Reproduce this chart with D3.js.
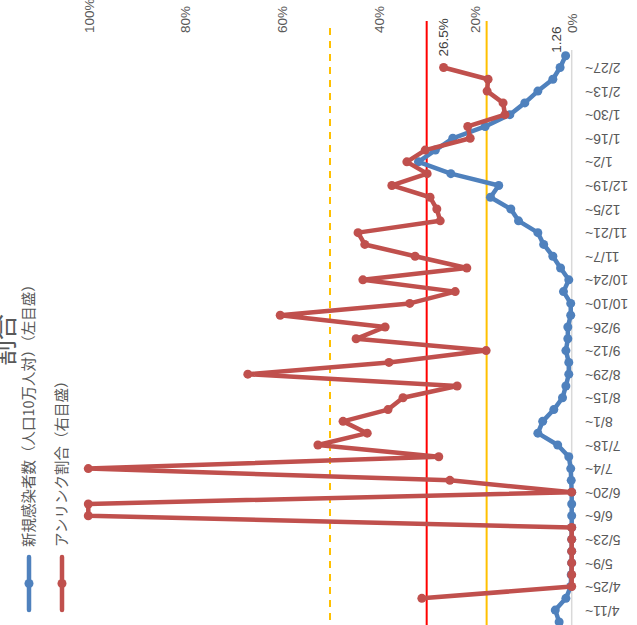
<!DOCTYPE html>
<html><head><meta charset="utf-8">
<script src="https://cdn.jsdelivr.net/npm/d3@7"></script>
<style>body{margin:0;background:#fff;overflow:hidden}</style>
</head><body><svg id="c" width="637" height="625"></svg>
<script>
// Weekly categories (week starting)
const weeks = ["3/28","4/4","4/11","4/18","4/25","5/2","5/9","5/16","5/23","5/30",
  "6/6","6/13","6/20","6/27","7/4","7/11","7/18","7/25","8/1","8/8",
  "8/15","8/22","8/29","9/5","9/12","9/19","9/26","10/3","10/10","10/17",
  "10/24","10/31","11/7","11/14","11/21","11/28","12/5","12/12","12/19","12/26",
  "1/2","1/9","1/16","1/23","1/30","2/6","2/13","2/20","2/27","3/6"];
// New cases per 100k population (left scale)
const newCases = [1.5,2.6,3.4,1.2,0.2,0.1,0,0,0,0,
  0,0,0,0.1,0.2,0.6,2.9,7.0,6.0,3.7,
  1.9,1.2,0.6,0.6,1.2,0.8,0.8,0.2,0.2,1.7,
  0.6,2.3,3.9,5.8,7.0,11.0,12.6,16.8,15.1,25.0,
  31.7,28.2,24.6,17.9,12.8,9.7,7.0,3.9,2.4,1.26];
// Unlinked ratio % (right scale)
const unlinkedPct = [null,null,null,31.0,0,0,0,0,0,0,
  100,100,0,25.2,100,27.5,52.5,42.3,47.3,38.0,
  34.9,23.7,67.0,37.8,17.7,44.6,38.6,60.3,33.5,24.1,
  43.2,21.7,32.4,42.8,44.2,27.2,27.9,29.3,37.2,29.9,
  34.1,30.3,21.0,21.5,13.8,14.2,17.5,17.3,26.5,null];
const pctTicks = [0,20,40,60,80,100];
const refValues = [30, 17.6, 50];
const refColors = ["#FF0000","#FFC000","#FFC000"];
const refDash = [null, null, "7,6"];
const seriesNames = ["新規感染者数（人口10万人対）（左目盛）","アンリンク割合（右目盛）"];
const seriesColors = ["#4F81BD","#C0504D"];
const chartTitle = "割合";
const lastLabels = ["1.26","26.5%"];

const svg = d3.select("#c");
const xR = d3.scaleLinear().domain([0,100]).range([571.7, 88.3]);
const xL = d3.scaleLinear().domain([0,100]).range([571.7, 88.3]);
const y = d3.scalePoint().domain(weeks).range([633.7, 55.7]);
const grey = "#595959";
const numFont = "'Liberation Sans', Arial, sans-serif";
const jpFont = "'Noto Sans CJK JP', sans-serif";

// category axis line
svg.append("line").attr("x1", xR(0)).attr("x2", xR(0)).attr("y1", 50).attr("y2", 640)
  .attr("stroke", "#D9D9D9").attr("stroke-width", 1.5);

// percent axis (top)
const ax = svg.append("g")
  .call(d3.axisTop(xR).tickValues(pctTicks).tickFormat(d => d + "%").tickSize(0));
ax.select(".domain").remove();
ax.selectAll("text").attr("x", 0).attr("y", 0).attr("dy", "0.35em")
  .attr("transform", "translate(0,33) rotate(-90)")
  .attr("text-anchor", "start").attr("fill", grey)
  .style("font-family", numFont).style("font-size", "13.5px");

// date axis (right)
const ay = svg.append("g").attr("transform", "translate(585,0)")
  .call(d3.axisRight(y).tickValues(weeks.filter((d, i) => i % 2 === 0)).tickFormat(d => d + "~").tickSize(0));
ay.select(".domain").remove();
ay.selectAll("text").attr("x", 0).attr("dy", "0.35em")
  .attr("transform", "rotate(180)").attr("text-anchor", "end").attr("fill", grey)
  .style("font-family", numFont).style("font-size", "14px");

// reference lines
refValues.forEach((v, i) => {
  svg.append("line").attr("x1", xR(v)).attr("x2", xR(v))
    .attr("y1", refDash[i] ? 28 : 21).attr("y2", 640)
    .attr("stroke", refColors[i]).attr("stroke-width", 2)
    .attr("stroke-dasharray", refDash[i]);
});

function drawSeries(vals, xs, color) {
  const data = weeks.map((w, i) => ({w, v: vals[i]}));
  const line = d3.line().defined(d => d.v != null).x(d => xs(d.v)).y(d => y(d.w));
  svg.append("path").datum(data).attr("d", line).attr("fill", "none")
    .attr("stroke", color).attr("stroke-width", 4.5).attr("stroke-linejoin", "round");
  svg.append("g").selectAll("circle").data(data.filter(d => d.v != null)).join("circle")
    .attr("cx", d => xs(d.v)).attr("cy", d => y(d.w)).attr("r", 4.5).attr("fill", color);
}
drawSeries(newCases, xL, seriesColors[0]);
drawSeries(unlinkedPct, xR, seriesColors[1]);

// data labels for last points
const lastBlue = newCases[newCases.length - 1];
svg.append("text").attr("transform", `translate(${xL(lastBlue) - 9},${y("3/6") - 3}) rotate(-90)`)
  .attr("dy", "0.35em").attr("text-anchor", "start").attr("fill", "#404040")
  .style("font-family", numFont).style("font-size", "13.5px").text(lastLabels[0]);
svg.append("text").attr("transform", `translate(${xR(26.5)},${y("2/27") - 11}) rotate(-90)`)
  .attr("dy", "0.35em").attr("text-anchor", "start").attr("fill", "#404040")
  .style("font-family", numFont).style("font-size", "13.5px").text(lastLabels[1]);

// legend
const legX = [29, 62];
seriesNames.forEach((n, i) => {
  const g = svg.append("g");
  g.append("line").attr("x1", legX[i]).attr("x2", legX[i]).attr("y1", 557).attr("y2", 610)
    .attr("stroke", seriesColors[i]).attr("stroke-width", 4.5).attr("stroke-linecap", "round");
  g.append("circle").attr("cx", legX[i]).attr("cy", 583.5).attr("r", 4.5).attr("fill", seriesColors[i]);
  g.append("text").attr("transform", `translate(${legX[i]},547) rotate(-90)`)
    .attr("dy", "0.35em").attr("text-anchor", "start").attr("fill", grey)
    .style("font-family", jpFont).style("font-size", "14.5px").text(n);
});

// title
svg.append("text").attr("transform", "translate(5,366) rotate(-90)")
  .attr("dy", "0.35em").attr("text-anchor", "start").attr("fill", grey)
  .style("font-family", jpFont).style("font-size", "26px").text(chartTitle);
</script></body></html>
